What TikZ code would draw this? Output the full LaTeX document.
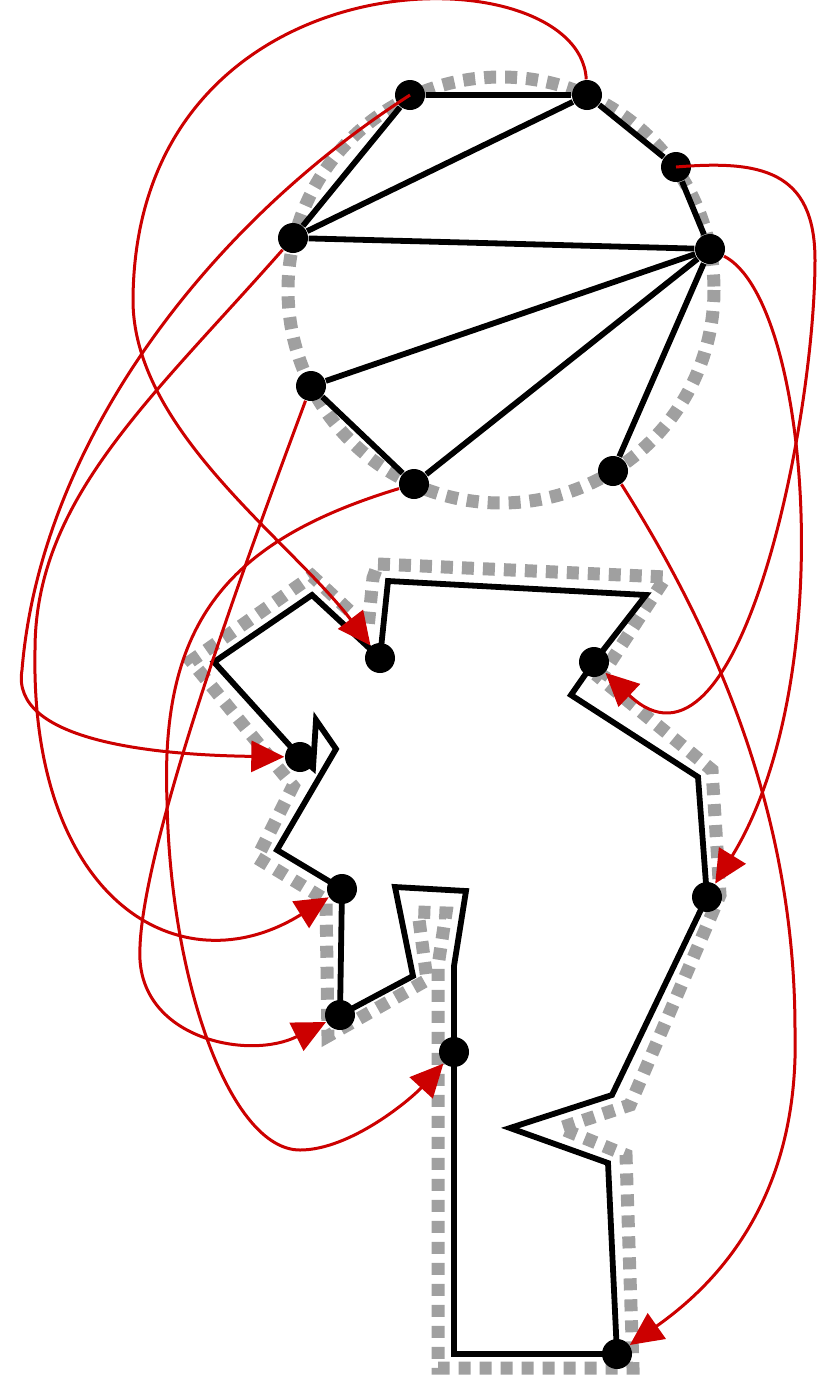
\documentclass[tikz,border=0pt]{standalone}
\usepackage{tikz}
\usetikzlibrary{arrows.meta}
\definecolor{hlRed}{HTML}{CC0000}
\definecolor{hlGray}{HTML}{A0A0A0}
\tikzset{
  hl diagram/.style={x=0.1mm, y=-0.1mm, line join=miter},
  hl hull/.style={draw=hlGray, line width=1.3mm, dash pattern=on 1.2mm off 0.9mm},
  hl edge/.style={draw=black, line width=0.58mm},
  hl dot/.style={circle, fill=black, minimum size=3.0mm, inner sep=0pt},
  hl map/.style={-{Triangle[length=3.3mm, width=3.1mm]}, draw=hlRed, line width=0.3mm}
}
\begin{document}
\begin{tikzpicture}[hl diagram]
\useasboundingbox (0,0) rectangle (822,1378);
% hulls
\draw[hl hull] (501,290) circle[radius=213];
\draw[hl hull] (378,564) -- (666,577) -- (600,678) -- (712,770) -- (720,895)
  -- (630,1105) -- (560,1128) -- (626,1155) -- (633,1368) -- (438,1368)
  -- (438,966) -- (446,913) -- (418,912) -- (427,980) -- (328,1036)
  -- (326,900) -- (257,858) -- (293,786) -- (191,661) -- (312,576)
  -- (368,628) -- (373,578) -- cycle;
% polygon
\draw[hl edge] (380,658) -- (388,581) -- (646,595) -- (594,662) -- (571,695)
  -- (698,777) -- (707,897) -- (612,1095) -- (510,1128) -- (608,1163)
  -- (617,1354) -- (454,1354) -- (454,1052) -- (454,966) -- (466,891)
  -- (395,887) -- (413,976) -- (340,1015) -- (342,889) -- (277,850)
  -- (336,749) -- (316,720) -- (313,768) -- (300,757) -- (214,662)
  -- (312,595) -- cycle;
% top graph
\node[hl dot] (t1) at (410,95) {};
\node[hl dot] (t2) at (587,95) {};
\node[hl dot] (t3) at (676,167) {};
\node[hl dot] (t4) at (293,238) {};
\node[hl dot] (t5) at (710,249) {};
\node[hl dot] (t6) at (311,386) {};
\node[hl dot] (t7) at (414,484) {};
\node[hl dot] (t8) at (613,471) {};
\foreach \a/\b in {t1/t2, t1/t4, t2/t4, t2/t3, t3/t5, t4/t5, t5/t6, t5/t7, t5/t8, t6/t7}
  \draw[hl edge] (\a) -- (\b);
% polygon vertices
\node[hl dot] (b1) at (380,658) {};
\node[hl dot] (b2) at (594,662) {};
\node[hl dot] (b3) at (300,757) {};
\node[hl dot] (b4) at (342,889) {};
\node[hl dot] (b5) at (707,897) {};
\node[hl dot] (b6) at (340,1015) {};
\node[hl dot] (b7) at (454,1052) {};
\node[hl dot] (b8) at (617,1354) {};
% mapping
\draw[hl map] (t2) .. controls (580,-50) and (135,-55) .. (133,300)
  .. controls (133,430) and (290,540) .. (b1);
\draw[hl map] (t1.center) .. controls (200,230) and (40,450) .. (22,670)
  .. controls (10,740) and (150,755) .. (b3);
\draw[hl map] (t4) .. controls (150,400) and (35,500) .. (35,650)
  .. controls (30,900) and (180,990) .. (b4);
\draw[hl map] (t6) .. controls (250,550) and (135,860) .. (140,960)
  .. controls (145,1040) and (250,1060) .. (b6);
\draw[hl map] (t7) .. controls (230,540) and (160,620) .. (167,800)
  .. controls (170,980) and (230,1150) .. (300,1150)
  .. controls (350,1150) and (410,1100) .. (b7);
\draw[hl map] (t3.center) .. controls (760,160) and (815,170) .. (815,260)
  .. controls (815,420) and (740,800) .. (b2);
\draw[hl map] (t5) .. controls (810,300) and (840,680) .. (b5);
\draw[hl map] (t8) .. controls (720,640) and (795,820) .. (795,1030)
  .. controls (800,1200) and (715,1285) .. (b8);
\end{tikzpicture}
\end{document}
